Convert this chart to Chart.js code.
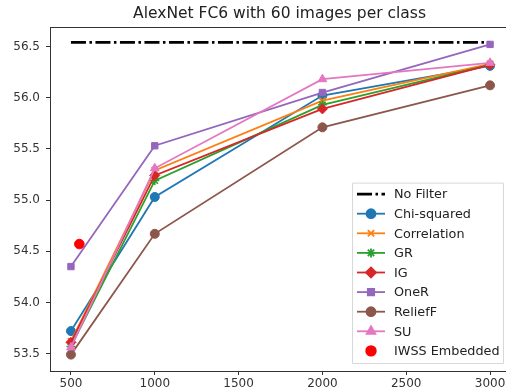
<!DOCTYPE html>
<html>
<head>
<meta charset="utf-8">
<script src="https://cdn.jsdelivr.net/npm/chart.js@4.4.1/dist/chart.umd.min.js"></script>
<style>
  html, body { margin: 0; padding: 0; background: #fff; overflow: hidden; }
  #chart { display: block; filter: blur(0.4px); }
</style>
</head>
<body>
<canvas id="chart" width="520" height="392"></canvas>
<script>
// values
const featureCounts = [500, 1000, 2000, 3000];
const noFilter = [56.54, 56.54, 56.54, 56.54];
const chiSquared = [53.72, 55.03, 56.02, 56.31];
const correlation = [53.62, 55.29, 55.97, 56.33];
const gainRatio = [53.57, 55.19, 55.93, 56.32];
const infoGain = [53.61, 55.24, 55.89, 56.32];
const oneR = [54.35, 55.53, 56.05, 56.52];
const reliefF = [53.49, 54.67, 55.71, 56.12];
const symUncert = [53.56, 55.31, 56.18, 56.34];
const iwssX = [550];
const iwssY = [54.57];

const xTicks = [500, 1000, 1500, 2000, 2500, 3000];
const yTicks = [53.5, 54.0, 54.5, 55.0, 55.5, 56.0, 56.5];

const titleText = "AlexNet FC6 with 60 images per class";
const fontFamily = "'DejaVu Sans', sans-serif";

function toPoints(xs, ys) {
  return xs.map((x, i) => ({ x: x, y: ys[i] }));
}

function series(label, values, color, style, extra) {
  return Object.assign({
    label: label,
    data: toPoints(featureCounts, values),
    borderColor: color,
    backgroundColor: color,
    pointBackgroundColor: color,
    pointBorderColor: color,
    pointStyle: style,
    pointRadius: 4.5,
    borderWidth: 1.8,
    pointBorderWidth: 1,
  }, extra || {});
}

const datasets = [
  series("No Filter", noFilter, "#000000", false, {
    borderDash: [15, 3.5, 2.5, 3.5], borderWidth: 2.6, pointRadius: 0,
  }),
  series("Chi-squared", chiSquared, "#1f77b4", "circle"),
  series("Correlation", correlation, "#ff7f0e", "crossRot", { pointBorderWidth: 1.6 }),
  series("GR", gainRatio, "#2ca02c", "star", { pointBorderWidth: 1.6 }),
  series("IG", infoGain, "#d62728", "rectRot", { pointRadius: 5 }),
  series("OneR", oneR, "#9467bd", "rect"),
  series("ReliefF", reliefF, "#8c564b", "circle"),
  series("SU", symUncert, "#e377c2", "triangle", { pointRadius: 5 }),
  {
    label: "IWSS Embedded",
    data: toPoints(iwssX, iwssY),
    showLine: false,
    borderColor: "#ff0000",
    backgroundColor: "#ff0000",
    pointStyle: "circle",
    pointRadius: 4.8,
    pointBorderWidth: 1,
  },
];
// matplotlib draws later series on top
datasets.forEach((d, i) => { d.order = datasets.length - i; });

// title centred over the axes, top spine, legend box in the lower right
const figurePlugin = {
  id: "figure",
  afterDraw(chart) {
    const ctx = chart.ctx;
    const area = chart.chartArea;
    ctx.save();

    ctx.strokeStyle = "#333";
    ctx.lineWidth = 1;
    ctx.beginPath();
    ctx.moveTo(area.left, area.top + 0.5);
    ctx.lineTo(area.right, area.top + 0.5);
    ctx.stroke();

    ctx.fillStyle = "#222";
    ctx.font = "15.5px " + fontFamily;
    ctx.textAlign = "center";
    ctx.textBaseline = "middle";
    ctx.fillText(titleText, (area.left + area.right) / 2 - 1, 14);

    const rowH = 19.6;
    const boxW = 151;
    const boxH = datasets.length * rowH + 4;
    const boxRight = area.right - 8;
    const boxBottom = area.bottom - 8;
    const boxLeft = boxRight - boxW;
    const boxTop = boxBottom - boxH;
    ctx.fillStyle = "rgba(255,255,255,0.85)";
    ctx.strokeStyle = "#d8d8d8";
    ctx.lineWidth = 1;
    ctx.beginPath();
    ctx.rect(boxLeft + 0.5, boxTop + 0.5, boxW, boxH);
    ctx.fill();
    ctx.stroke();

    ctx.font = "12.8px " + fontFamily;
    ctx.textAlign = "left";
    datasets.forEach((d, i) => {
      const y = boxTop + 11.5 + i * rowH;
      const x0 = boxLeft + 5;
      const x1 = boxLeft + 33;
      ctx.strokeStyle = d.borderColor;
      ctx.fillStyle = d.backgroundColor;
      if (d.showLine !== false) {
        ctx.lineWidth = d.borderWidth;
        ctx.setLineDash(d.borderDash || []);
        ctx.beginPath();
        ctx.moveTo(x0, y);
        ctx.lineTo(x1, y);
        ctx.stroke();
        ctx.setLineDash([]);
      }
      if (d.pointStyle) {
        Chart.helpers.drawPoint(ctx, {
          pointStyle: d.pointStyle,
          radius: d.pointRadius,
          rotation: 0,
          borderWidth: d.pointBorderWidth || 1,
        }, (x0 + x1) / 2, y);
      }
      ctx.fillStyle = "#222";
      ctx.fillText(d.label, boxLeft + 42, y + 1);
    });
    ctx.restore();
  },
};

new Chart(document.getElementById("chart"), {
  type: "line",
  data: { datasets: datasets },
  options: {
    responsive: false,
    animation: false,
    layout: { padding: { top: 27, right: 9, left: 0, bottom: 0 } },
    plugins: {
      legend: { display: false },
      title: { display: false },
      tooltip: { enabled: false },
    },
    scales: {
      x: {
        type: "linear",
        min: 375,
        max: 3125,
        afterBuildTicks: (scale) => { scale.ticks = xTicks.map((v) => ({ value: v })); },
        afterFit: (scale) => { scale.height = 21; },
        grid: { display: true, drawOnChartArea: false, drawTicks: true, tickLength: 4, color: "#333" },
        border: { display: true, color: "#333", width: 1 },
        ticks: {
          color: "#333",
          padding: 2,
          maxRotation: 0,
          font: { family: fontFamily, size: 12 },
          callback: (v) => String(v),
        },
      },
      y: {
        type: "linear",
        min: 53.33,
        max: 56.69,
        afterBuildTicks: (scale) => { scale.ticks = yTicks.map((v) => ({ value: v })); },
        afterFit: (scale) => { scale.width = 50; },
        grid: { display: true, drawOnChartArea: false, drawTicks: true, tickLength: 4, color: "#333" },
        border: { display: true, color: "#333", width: 1 },
        ticks: {
          color: "#333",
          padding: 6,
          font: { family: fontFamily, size: 12 },
          callback: (v) => Number(v).toFixed(1),
        },
      },
    },
  },
  plugins: [figurePlugin],
});
</script>
</body>
</html>
